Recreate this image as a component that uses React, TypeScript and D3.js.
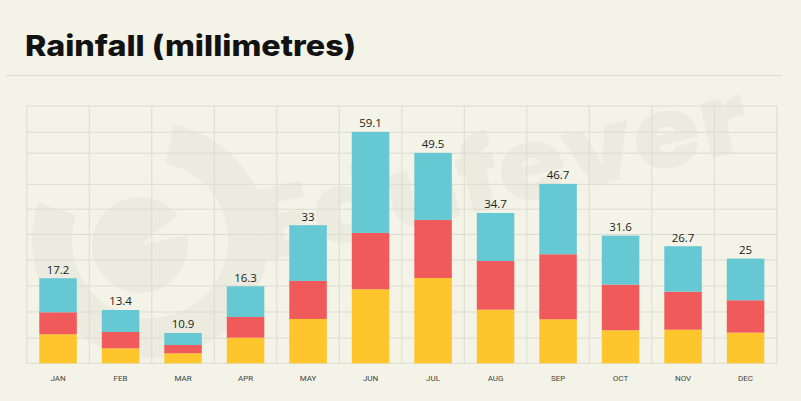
import React from "react";
import * as d3 from "d3";

const months = ["JAN", "FEB", "MAR", "APR", "MAY", "JUN", "JUL", "AUG", "SEP", "OCT", "NOV", "DEC"];
const totalLabels = ["17.2", "13.4", "10.9", "16.3", "33", "59.1", "49.5", "34.7", "46.7", "31.6", "26.7", "25"];
const yellowValues = [7.41, 3.83, 2.55, 6.54, 11.32, 18.91, 21.79, 13.69, 11.24, 8.43, 8.58, 7.82];
const redValues = [5.62, 4.16, 2.12, 5.29, 9.71, 14.38, 14.82, 12.44, 16.61, 11.65, 9.71, 8.28];
const blueValues = [8.69, 5.62, 3.07, 7.84, 14.23, 25.8, 17.12, 12.26, 17.96, 12.52, 11.6, 10.63];
const gridValues = [0, 6.46, 13.1, 19.75, 26.4, 32.9, 39.35, 45.7, 53.65, 59.0, 65.7];
const seriesKeys = ["yellow", "red", "blue"];
const seriesColors = ["#fec62c", "#f05a5a", "#65c8d2"];

const W = 801;
const H = 401;
const left = 26.8;
const right = 776.8;
const baseline = 363.3;
const top = 106;

export default function App() {
  const x = d3.scaleBand<string>().domain(months).range([left, right]).paddingInner(0.4).paddingOuter(0.2);
  const y = d3.scaleLinear().domain([0, 65.7]).range([baseline, top]);

  const rows = months.map((m, i) => ({
    month: m,
    yellow: yellowValues[i],
    red: redValues[i],
    blue: blueValues[i],
  }));
  const stacked = d3.stack<any>().keys(seriesKeys)(rows);

  const step = x.step();
  const bw = x.bandwidth();
  const vLines = months.map((m) => (x(m) as number) - (step - bw) / 2).concat([right]);

  const wm = "#ebebdf";
  const arcOuter = d3.arc()({ innerRadius: 78, outerRadius: 118, startAngle: 0.55, endAngle: 2 * Math.PI - 0.9 } as any) || "";
  const arcInner = d3.arc()({ innerRadius: 0, outerRadius: 48, startAngle: Math.PI * 0.1, endAngle: Math.PI * 1.95 } as any) || "";

  return (
    <svg width={W} height={H} style={{ position: "absolute", left: 0, top: 0, background: "#f3f3e7" }}>
      <rect x={0} y={0} width={W} height={H} fill="#f3f3e7" />
      {/* watermark */}
      <g>
        <path d={arcOuter} fill={wm} transform="translate(150,240) rotate(-20)" />
        <path d={arcInner} fill={wm} transform="translate(140,245) rotate(60)" />
        <text
          x={262}
          y={262}
          transform="rotate(-13 262 262)"
          fontFamily="Poppins, 'Open Sans', sans-serif"
          fontWeight={800}
          fontSize={100}
          fill={wm}
          textLength={505}
          lengthAdjust="spacingAndGlyphs"
        >
          Edufever
        </text>
      </g>
      {/* title */}
      <text
        x={25}
        y={56}
        fontFamily="Inter, 'Open Sans', sans-serif"
        fontWeight={800}
        fontSize={29}
        fill="#121212"
        textLength={331}
        lengthAdjust="spacingAndGlyphs"
      >
        Rainfall (millimetres)
      </text>
      <line x1={6} x2={782} y1={75.5} y2={75.5} stroke="#dcdccf" strokeWidth={1} />
      {/* grid */}
      {gridValues.map((v, i) => (
        <line key={"h" + i} x1={left} x2={right} y1={y(v)} y2={y(v)} stroke="#dcdcd0" strokeWidth={1} />
      ))}
      {vLines.map((vx, i) => (
        <line key={"v" + i} x1={vx} x2={vx} y1={top} y2={baseline} stroke="#dcdcd0" strokeWidth={1} />
      ))}
      {/* bars */}
      {stacked.map((layer, li) => (
        <g key={layer.key} fill={seriesColors[li]}>
          {layer.map((d, i) => (
            <rect
              key={i}
              x={x(months[i])}
              y={y(d[1])}
              width={bw}
              height={y(d[0]) - y(d[1])}
            />
          ))}
        </g>
      ))}
      {/* total labels */}
      {stacked[stacked.length - 1].map((d, i) => (
        <text
          key={"l" + i}
          x={(x(months[i]) as number) + bw / 2}
          y={y(d[1]) - 4.5}
          textAnchor="middle"
          fontFamily="'Open Sans', sans-serif"
          fontSize={11.5}
          fill="#222"
        >
          {totalLabels[i]}
        </text>
      ))}
      {/* x labels */}
      {months.map((m) => (
        <text
          key={"x" + m}
          x={(x(m) as number) + bw / 2}
          y={381}
          textAnchor="middle"
          fontFamily="Roboto, sans-serif"
          fontSize={8}
          fill="#444"
        >
          {m}
        </text>
      ))}
    </svg>
  );
}
